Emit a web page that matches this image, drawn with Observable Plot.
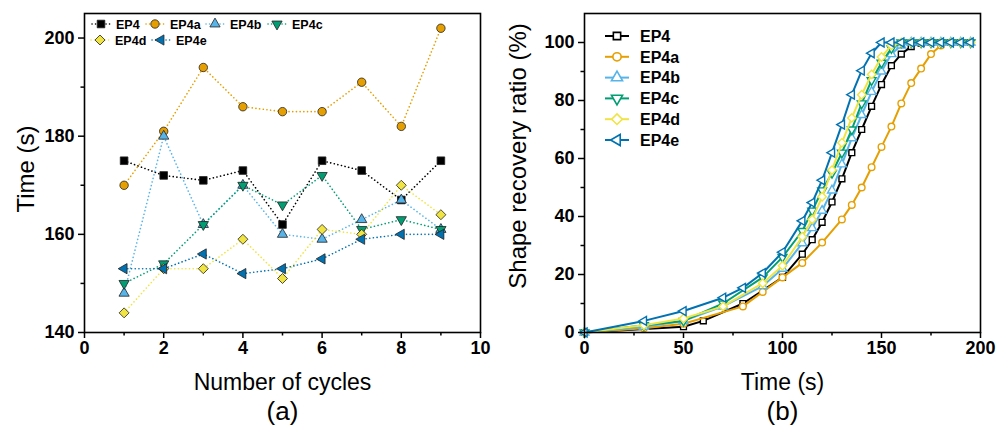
<!DOCTYPE html>
<html><head><meta charset="utf-8">
<script src="https://cdn.jsdelivr.net/npm/d3@7"></script>
<script src="https://cdn.jsdelivr.net/npm/@observablehq/plot@0.6"></script>
<style>
body{margin:0;background:#fff;}
#wrap{display:flex;width:1004px;height:432px;}
#wrap svg{display:block;}
</style></head><body><div id="wrap"></div>
<script>
// ---------- shared ----------
const series = ["EP4", "EP4a", "EP4b", "EP4c", "EP4d", "EP4e"];
const colors = ["#000000", "#E69F00", "#56B4E9", "#009E73", "#F0E442", "#0072B2"];

// ---------- panel (a): time vs number of cycles ----------
const cycles = [1, 2, 3, 4, 5, 6, 7, 8, 9];
const timeEP4  = [175, 172, 171, 173, 162, 175, 173, 167, 175];
const timeEP4a = [170, 181, 194, 186, 185, 185, 191, 182, 202];
const timeEP4b = [148, 180, 162, 170, 160, 159, 163, 167, 161];
const timeEP4c = [150, 154, 162, 170, 166, 172, 161, 163, 161];
const timeEP4d = [144, 153, 153, 159, 151, 161, 160, 170, 164];
const timeEP4e = [153, 153, 156, 152, 153, 155, 159, 160, 160];
const xTicksA = [0, 2, 4, 6, 8, 10];
const xMinorA = [1, 3, 5, 7, 9];
const yTicksA = [140, 160, 180, 200];
const yMinorA = [150, 170, 190];

// ---------- panel (b): shape recovery ratio vs time ----------
const tEP4  = [0, 50, 60, 80, 100, 110, 115, 120, 125, 130, 135, 140, 145, 150, 155, 160, 165, 170, 175, 180, 185, 190, 195];
const rEP4  = [0, 2, 4, 10, 19, 27, 32, 38, 45, 53, 62, 70, 78, 85.5, 92, 96, 98.6, 99.8, 100, 100, 100, 100, 100];
const tEP4a = [0, 30, 50, 80, 90, 100, 110, 120, 130, 135, 140, 145, 150, 155, 160, 165, 170, 175, 180, 185, 190, 195];
const rEP4a = [0, 1.5, 3, 9, 14, 19, 24, 31, 39, 44, 50, 57, 64, 71, 79, 86, 91, 96, 99, 100, 100, 100];
const tEP4b = [0, 30, 50, 70, 90, 100, 110, 115, 120, 125, 130, 135, 140, 145, 150, 155, 160, 165, 170, 175, 180, 185, 190, 195];
const rEP4b = [0, 2, 4, 9, 16, 22, 30.8, 36, 42, 49, 58, 67, 75, 83, 90, 96, 99, 100, 100, 100, 100, 100, 100, 100];
const tEP4c = [0, 30, 50, 70, 90, 100, 110, 115, 120, 125, 130, 135, 140, 145, 150, 155, 160, 165, 170, 175, 180, 185, 190, 195];
const rEP4c = [0, 2.5, 4, 10, 19, 26, 35, 42, 49, 55, 62, 70, 79, 87, 93, 98, 100, 100, 100, 100, 100, 100, 100, 100];
const tEP4d = [0, 30, 50, 70, 90, 100, 110, 115, 120, 125, 130, 135, 140, 145, 150, 155, 160, 165, 170, 175, 180, 185, 190, 195];
const rEP4d = [0, 2.5, 4.8, 9, 17, 23, 33, 39, 46.8, 56, 65.4, 74, 82, 89, 95, 99, 100, 100, 100, 100, 100, 100, 100, 100];
const tEP4e = [0, 30, 50, 70, 80, 90, 100, 110, 115, 120, 125, 130, 135, 140, 145, 150, 155, 160, 165, 170, 175, 180, 185, 190, 195];
const rEP4e = [0, 4, 7.4, 12, 15.4, 20.5, 27.7, 38.5, 44.8, 52.5, 62, 71.7, 82, 90.3, 96.3, 100, 100, 100, 100, 100, 100, 100, 100, 100, 100];
const xTicksB = [0, 50, 100, 150, 200];
const xMinorB = [25, 75, 125, 175];
const yTicksB = [0, 20, 40, 60, 80, 100];
const yMinorB = [10, 30, 50, 70, 90];

// ---------- build tables ----------
const timesA = [timeEP4, timeEP4a, timeEP4b, timeEP4c, timeEP4d, timeEP4e];
const recA = series.flatMap((s, i) => cycles.map((c, j) => ({series: s, cycle: c, time: timesA[i][j]})));
const tB = [tEP4, tEP4a, tEP4b, tEP4c, tEP4d, tEP4e];
const rB = [rEP4, rEP4a, rEP4b, rEP4c, rEP4d, rEP4e];
const recB = series.flatMap((s, i) => tB[i].map((t, j) => ({series: s, t, r: rB[i][j]})));

// ---------- symbols ----------
const S3 = Math.sqrt(3);
const triDown = {draw(ctx, size) { const y = -Math.sqrt(size / (S3 * 3)); ctx.moveTo(0, -2 * y); ctx.lineTo(-S3 * y, y); ctx.lineTo(S3 * y, y); ctx.closePath(); }};
const triLeft = {draw(ctx, size) { const y = -Math.sqrt(size / (S3 * 3)); ctx.moveTo(2 * y, 0); ctx.lineTo(-y, -S3 * y); ctx.lineTo(-y, S3 * y); ctx.closePath(); }};
const symObjs = [d3.symbolSquare, d3.symbolCircle, d3.symbolTriangle, triDown, d3.symbolDiamond2, triLeft];
const symNames = ["square", "circle", "triangle", triDown, "diamond2", triLeft];
const rA = [4.3, 4.2, 3.8, 3.8, 4.5, 3.8];
const rBs = [3.3, 3.3, 3.3, 3.3, 3.8, 3.3];

const font = "'Liberation Sans', Arial, Helvetica, sans-serif";
const tickFont = {fontSize: 18, fontWeight: "bold", fontFamily: font};
const titleFont = {fontSize: 23, fontWeight: "normal", textAnchor: "middle", lineAnchor: "middle"};

function axes(xt, xm, yt, ym) {
  return [
    Plot.axisX({ticks: xt, tickSize: 6, tickPadding: 3, tickFormat: d => d, label: null, strokeWidth: 1.5, ...tickFont}),
    Plot.axisX({ticks: xm, tickSize: 3.5, tickFormat: () => "", label: null, strokeWidth: 1.5}),
    Plot.axisY({ticks: yt, tickSize: 6, tickPadding: 4, tickFormat: d => d, label: null, strokeWidth: 1.5, ...tickFont}),
    Plot.axisY({ticks: ym, tickSize: 3.5, tickFormat: () => "", label: null, strokeWidth: 1.5}),
    Plot.frame({stroke: "black", strokeWidth: 1.6})
  ];
}

// ---------- panel (a) ----------
const plotA = Plot.plot({
  width: 502, height: 432,
  marginLeft: 84, marginRight: 22, marginTop: 13, marginBottom: 100,
  style: {fontFamily: font, background: "white", color: "black", overflow: "visible"},
  x: {domain: [0, 10]},
  y: {domain: [140, 205]},
  marks: [
    ...series.map((s, i) => Plot.line(recA.filter(d => d.series === s), {x: "cycle", y: "time", stroke: colors[i], strokeWidth: 1.6, strokeDasharray: "0.1,3.6", strokeLinecap: "round"})),
    ...series.map((s, i) => Plot.dot(recA.filter(d => d.series === s), {x: "cycle", y: "time", symbol: symNames[i], r: rA[i], fill: colors[i], stroke: "#222", strokeWidth: 0.8})),
    ...axes(xTicksA, xMinorA, yTicksA, yMinorA),
    Plot.text(["Number of cycles"], {text: d => d, frameAnchor: "bottom", dy: 50, ...titleFont}),
    Plot.text(["(a)"], {text: d => d, frameAnchor: "bottom", dy: 79, ...titleFont, fontSize: 26}),
    Plot.text(["Time (s)"], {text: d => d, frameAnchor: "left", dx: -58, dy: -4, rotate: -90, ...titleFont, fontSize: 24})
  ]
});

// ---------- panel (b) ----------
const plotB = Plot.plot({
  width: 502, height: 432,
  marginLeft: 82, marginRight: 24, marginTop: 13, marginBottom: 100,
  style: {fontFamily: font, background: "white", color: "black", overflow: "visible"},
  x: {domain: [0, 200]},
  y: {domain: [0, 110]},
  marks: [
    ...series.flatMap((s, i) => [
      Plot.line(recB.filter(d => d.series === s), {x: "t", y: "r", stroke: colors[i], strokeWidth: 2}),
      Plot.dot(recB.filter(d => d.series === s), {x: "t", y: "r", symbol: symNames[i], r: rBs[i], fill: "white", stroke: colors[i], strokeWidth: 1.4})
    ]),
    ...axes(xTicksB, xMinorB, yTicksB, yMinorB),
    Plot.text(["Time (s)"], {text: d => d, frameAnchor: "bottom", dy: 50, ...titleFont}),
    Plot.text(["(b)"], {text: d => d, frameAnchor: "bottom", dy: 79, ...titleFont, fontSize: 26}),
    Plot.text(["Shape recovery ratio (%)"], {text: d => d, frameAnchor: "left", dx: -66, dy: -17, rotate: -90, ...titleFont, fontSize: 24})
  ]
});

const wrap = document.getElementById("wrap");
wrap.appendChild(plotA);
wrap.appendChild(plotB);

// ---------- legends ----------
function symPath(i, r) { return d3.symbol(symObjs[i], Math.PI * r * r)(); }

// panel (a) legend: two rows, dotted line + filled marker + bold label
const legA = d3.select(plotA).append("g").attr("font-family", font).attr("font-weight", "bold").attr("font-size", 12.5).attr("text-anchor", "start");
const legAPos = [[101, 24], [155, 24], [215, 24], [277, 24], [100, 40], [161, 40]];
series.forEach((s, i) => {
  const [cx, cy] = legAPos[i];
  legA.append("line").attr("x1", cx - 9).attr("x2", cx + 9).attr("y1", cy).attr("y2", cy)
    .attr("stroke", colors[i]).attr("stroke-width", 1.5).attr("stroke-dasharray", "0.1,3.4").attr("stroke-linecap", "round");
  legA.append("path").attr("d", symPath(i, rA[i])).attr("transform", `translate(${cx},${cy})`)
    .attr("fill", colors[i]).attr("stroke", "#222").attr("stroke-width", 0.8);
  legA.append("text").attr("x", cx + 15).attr("y", cy).attr("dy", "0.36em").text(s);
});

// panel (b) legend: vertical list, solid line + open marker + bold label
const legB = d3.select(plotB).append("g").attr("font-family", font).attr("font-weight", "bold").attr("font-size", 16).attr("text-anchor", "start");
series.forEach((s, i) => {
  const cy = 36 + i * 20.8, cx = 115;
  legB.append("line").attr("x1", cx - 12).attr("x2", cx + 12).attr("y1", cy).attr("y2", cy)
    .attr("stroke", colors[i]).attr("stroke-width", 2);
  legB.append("path").attr("d", symPath(i, rBs[i] * 1.25)).attr("transform", `translate(${cx},${cy})`)
    .attr("fill", "white").attr("stroke", colors[i]).attr("stroke-width", 1.6);
  legB.append("text").attr("x", cx + 23).attr("y", cy).attr("dy", "0.36em").text(s);
});
</script>
</body></html>
